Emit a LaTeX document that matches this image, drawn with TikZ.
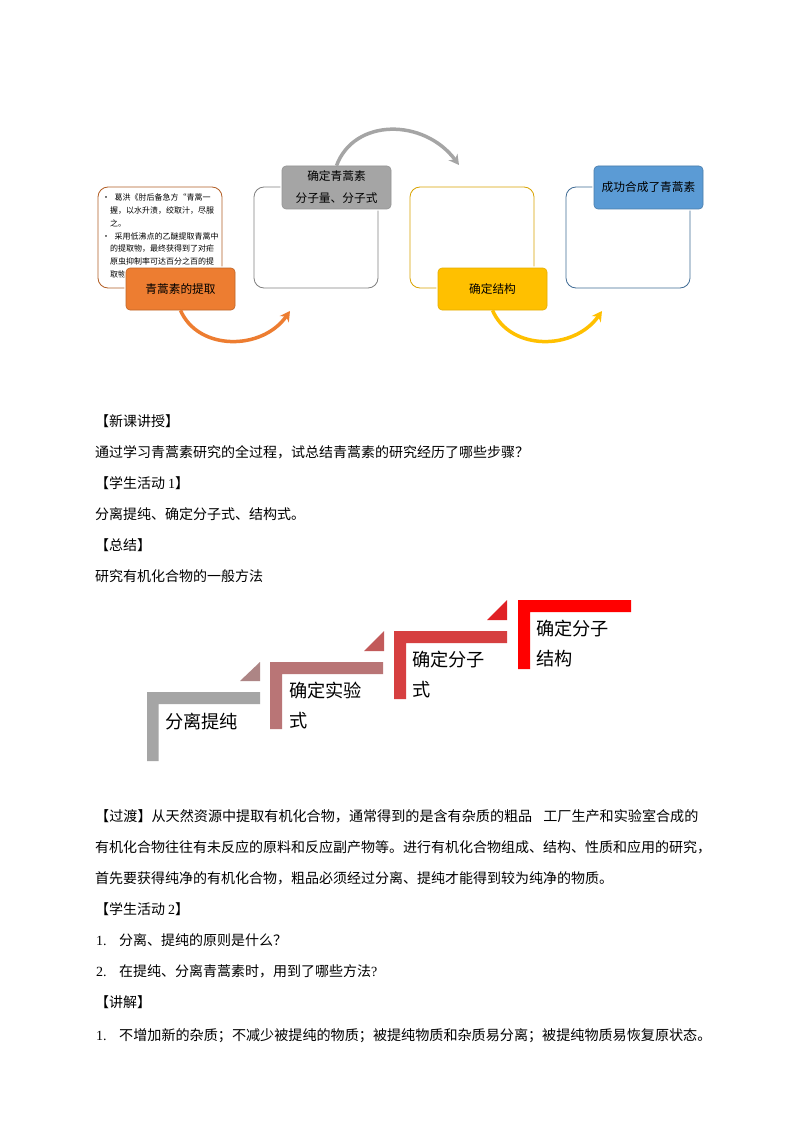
\documentclass[tikz,border=0pt]{standalone}
\usepackage{fontspec}
\setmainfont{Noto Sans CJK SC}
\newfontfamily\lat{Liberation Serif}
\usetikzlibrary{arrows.meta}
\definecolor{cOrange}{HTML}{ED7D31}
\definecolor{cGrey}{HTML}{A5A5A5}
\definecolor{cYellow}{HTML}{FFC000}
\definecolor{cBlue}{HTML}{5B9BD5}
\tikzset{
  x=1pt,y=-1pt,
  outline/.style={draw=#1,line width=0.8pt,rounded corners=10pt,fill=white},
  head/.style={rounded corners=4pt,line width=0.6pt,minimum width=109pt,inner sep=0pt,
     preaction={draw=white,line width=3.5pt},align=center,
     font=\fontsize{11.7}{22}\selectfont},
  arcline/.style={line width=3.5pt,-{Stealth[length=10pt,width=11pt]}},
  body/.style={anchor=base west,inner sep=0pt,font=\fontsize{14}{14}\selectfont},
  bodywide/.style={anchor=base west,inner sep=0pt,font=\fontsize{14.1}{14.1}\selectfont},
  steptext/.style={anchor=base west,inner sep=0pt,font=\fontsize{18.2}{18.2}\selectfont},
}
\begin{document}
\begin{tikzpicture}
\useasboundingbox[fill=white] (0,0) rectangle (794,1123);
% outlines
\draw[outline=cOrange!75!black] (98,187) rectangle (222,288);
\draw[outline=gray] (254,187) rectangle (378,288);
\draw[outline=cYellow!85!black] (410,187) rectangle (534,288);
\draw[outline=cBlue!70!black] (566,187) rectangle (690,288);
% small text
\node[anchor=north west,inner sep=0pt,align=left,
  font=\fontsize{8}{12.7}\selectfont] (detail) at (102,194) {%
  •\hspace{4.5pt}葛洪《肘后备急方“青蒿一\\
  \hspace{8pt}握，以水升渍，绞取汁，尽服\\
  \hspace{8pt}之。\\
  •\hspace{4.5pt}采用低沸点的乙醚提取青蒿中\\
  \hspace{8pt}的提取物，最终获得到了对疟\\
  \hspace{8pt}原虫抑制率可达百分之百的提\\
  \hspace{8pt}取物};
% heads
\node[head,fill=cOrange,draw=cOrange!80!black,minimum height=42pt] (extract) at (180.5,289) {青蒿素的提取};
\node[head,fill=cGrey,draw=cGrey!90!black,minimum height=43pt] (formula) at (336.5,187.5)
  {确定青蒿素\\分子量、分子式};
\node[head,fill=cYellow,draw=cYellow!90!black,minimum height=42pt] (struct) at (492.5,289) {确定结构};
\node[head,fill=cBlue,draw=cBlue!80!black,minimum height=43pt] (synth) at (648.5,187.5) {成功合成了青蒿素};
% arcs
\coordinate (endA) at (290,311);
\coordinate (endB) at (459,165);
\coordinate (endC) at (602,311);
\draw[arcline,draw=cOrange] (extract.south) .. controls (198,351) and (262,351) .. (endA);
\draw[arcline,draw=cGrey] (formula.north) .. controls (354,118) and (424,118) .. (endB);
\draw[arcline,draw=cYellow] (struct.south) .. controls (510,351) and (574,351) .. (endC);
% body text upper
\node[body] (t1) at (95,426) {【新课讲授】};
\node[body] (t2) at (95,457) {通过学习青蒿素研究的全过程，试总结青蒿素的研究经历了哪些步骤？};
\node[body] (t3) at (95,488) {【学生活动{\lat\hspace{3pt}1}】};
\node[body] (t4) at (95,519) {分离提纯、确定分子式、结构式。};
\node[body] (t5) at (95,550) {【总结】};
\node[body] (t6) at (95,581) {研究有机化合物的一般方法};
% stairs
\fill[cGrey] (147,692) -- (260,692) -- (260,704) -- (158.5,704) -- (158.5,761) -- (147,761) -- cycle;
\fill[fill={rgb,255:red,185;green,117;blue,118}] (270,662) -- (383,662) -- (383,674) -- (282,674) -- (282,729) -- (270,729) -- cycle;
\fill[fill={rgb,255:red,214;green,63;blue,64}] (394,631) -- (507,631) -- (507,643) -- (406,643) -- (406,699) -- (394,699) -- cycle;
\fill[red] (518,600) -- (631,600) -- (631,612) -- (530,612) -- (530,669) -- (518,669) -- cycle;
\fill[fill={rgb,255:red,173;green,133;blue,133}] (240,681) -- (260,662) -- (260,681) -- cycle;
\fill[fill={rgb,255:red,194;green,90;blue,90}] (364,651) -- (384,631) -- (384,651) -- cycle;
\fill[fill={rgb,255:red,224;green,32;blue,36}] (487,620) -- (507,600) -- (507,620) -- cycle;
\node[steptext] (s1) at (165,728) {分离提纯};
\node[steptext] (s2a) at (289,697) {确定实验};
\node[steptext] (s2b) at (289,727) {式};
\node[steptext] (s3a) at (412,666) {确定分子};
\node[steptext] (s3b) at (412,696) {式};
\node[steptext] (s4a) at (536,635) {确定分子};
\node[steptext] (s4b) at (536,665) {结构};
% body text lower
\node[bodywide] (b1) at (95,821) {【过渡】从天然资源中提取有机化合物，通常得到的是含有杂质的粗品\hspace{11pt}工厂生产和实验室合成的};
\node[body] (b2) at (95,852) {有机化合物往往有未反应的原料和反应副产物等。进行有机化合物组成、结构、性质和应用的研究，};
\node[body] (b3) at (95,883) {首先要获得纯净的有机化合物，粗品必须经过分离、提纯才能得到较为纯净的物质。};
\node[body] (b4) at (95,914) {【学生活动{\lat\hspace{3pt}2}】};
\node[body] (b5n) at (96,945) {\lat 1.};
\node[body] (b5) at (119,945) {分离、提纯的原则是什么？};
\node[body] (b6n) at (96,976) {\lat 2.};
\node[body] (b6) at (119,976) {在提纯、分离青蒿素时，用到了哪些方法{\lat ?}};
\node[body] (b7) at (95,1007) {【讲解】};
\node[body] (b8n) at (96,1040) {\lat 1.};
\node[bodywide] (b8) at (119,1040) {不增加新的杂质；不减少被提纯的物质；被提纯物质和杂质易分离；被提纯物质易恢复原状态。};
\end{tikzpicture}
\end{document}
